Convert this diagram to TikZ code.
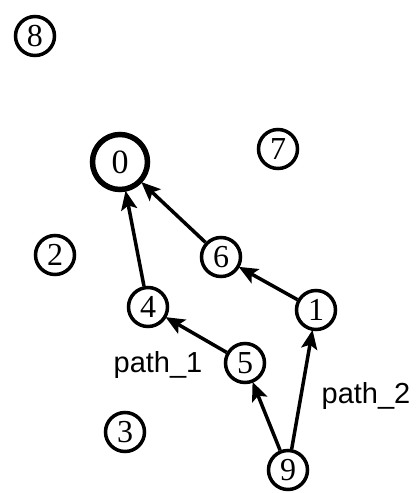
\documentclass[tikz,border=0pt]{standalone}
\usepackage{fontspec}
\setmainfont{Liberation Serif}
\newfontfamily\labfont{Liberation Sans}
\usetikzlibrary{arrows.meta}
\tikzset{
  vtx/.style={circle, draw, line width=3.5pt, minimum size=39pt, inner sep=0pt, font=\fontsize{32}{32}\selectfont},
  root/.style={vtx, line width=5.5pt, minimum size=55pt, font=\fontsize{34}{34}\selectfont},
  edge/.style={line width=3.5pt, -{Stealth[length=19pt,width=16pt,inset=4pt]}, shorten >=-1pt},
  lab/.style={anchor=base, inner sep=0pt, font=\labfont\fontsize{29}{29}\selectfont}
}
\begin{document}
\begin{tikzpicture}[x=1pt,y=-1pt]
\useasboundingbox (0,0) rectangle (418,493);
\node[vtx] (n8) at (35,36) {8};
\node[root] (n0) at (120,162) {0};
\node[vtx] (n7) at (278,149) {7};
\node[vtx] (n2) at (55,255) {2};
\node[vtx] (n6) at (221,257) {6};
\node[vtx] (n4) at (148,307) {4};
\node[vtx] (n1) at (316,310) {1};
\node[vtx] (n5) at (245,363) {5};
\node[vtx] (n3) at (125,432) {3};
\node[vtx] (n9) at (288,470) {9};
\node[lab] (p1) at (158,372) {path\_1};
\node[lab] (p2) at (366,403) {path\_2};
\draw[edge] (n4) -- (n0);
\draw[edge] (n6) -- (n0);
\draw[edge] (n1) -- (n6);
\draw[edge] (n5) -- (n4);
\draw[edge] (n9) -- (n5);
\draw[edge] (n9) -- (n1);
\end{tikzpicture}
\end{document}
